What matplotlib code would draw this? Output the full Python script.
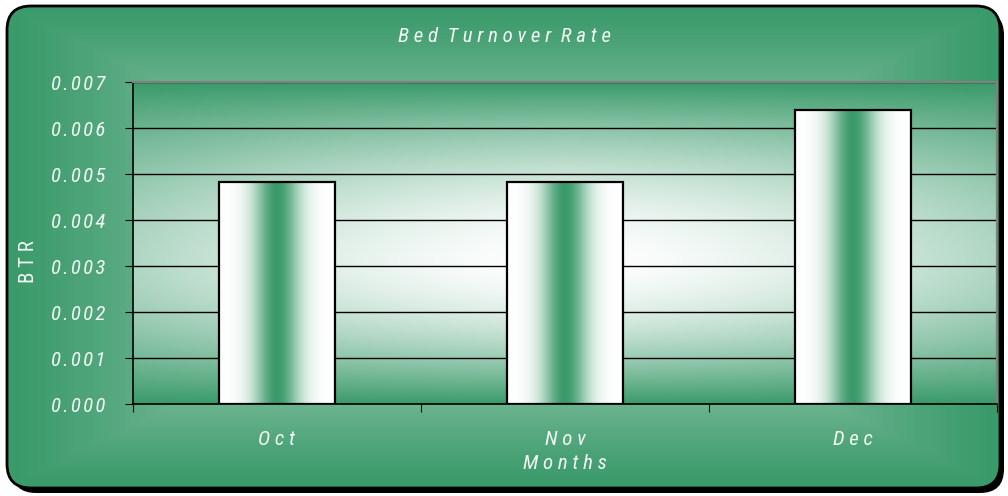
import numpy as np
import matplotlib
matplotlib.use('Agg')
import matplotlib.pyplot as plt
from matplotlib.patches import FancyBboxPatch
from matplotlib.colors import to_rgb
from matplotlib import font_manager

months = ['Oct', 'Nov', 'Dec']
btr = [0.00483, 0.00483, 0.00639]
yticks = [0.000, 0.001, 0.002, 0.003, 0.004, 0.005, 0.006, 0.007]

GREEN = np.array(to_rgb('#3a9a6a'))
WHITE = np.array([1.0, 1.0, 1.0])
TXT = '#f3f8f4'
FS = 15

# pick a narrow face if one is around
names = set(f.name for f in font_manager.fontManager.ttflist)
narrow = [n for n in ['Liberation Sans Narrow', 'Roboto Condensed', 'Open Sans Condensed',
                      'DejaVu Sans Condensed'] if n in names]
FONT = narrow + ['DejaVu Sans']
STRETCH = 'condensed'

def spaced(s, gap='\u200a'):
    # fake letter spacing like the original
    return '  '.join(gap.join(w) for w in s.split(' '))

def blend(w):
    w = np.clip(w, 0, 1)[..., None]
    return GREEN * (1 - w) + WHITE * w

fig = plt.figure(figsize=(10.08, 4.96), dpi=100)

# outer rounded frame with shadow and gradient
bg = fig.add_axes([0, 0, 1, 1])
bg.set_xlim(0, 1008)
bg.set_ylim(496, 0)
bg.axis('off')
shadow = FancyBboxPatch((12, 11), 992, 482, boxstyle='round,pad=0,rounding_size=24',
                        fc='black', ec='none', zorder=1)
bg.add_patch(shadow)
frame = FancyBboxPatch((7, 6), 993, 482, boxstyle='round,pad=0,rounding_size=24',
                       fc='none', ec='black', lw=2, zorder=3)
bg.add_patch(frame)
gx, gy = np.meshgrid(np.linspace(-1, 1, 400), np.linspace(-1, 1, 200))
d = np.maximum(np.abs(gx), np.abs(gy))
im = bg.imshow(blend(0.9 * (1 - d) ** 1.2), extent=(7, 1000, 488, 6), aspect='auto',
               zorder=2, interpolation='bilinear')
im.set_clip_path(frame)

# main plot
ax = fig.add_axes([133 / 1008, 92 / 496, 864 / 1008, 322 / 496])
ax.patch.set_visible(False)

# plot-area gradient (white centre, green top/bottom)
px, py = np.meshgrid(np.linspace(-1, 1, 300), np.linspace(0, 0.007, 300))
yc = 0.0031
v = np.where(py > yc, (py - yc) / (0.007 - yc), (yc - py) / yc)
wplot = (1 - v ** 1.8) * (1 - 0.4 * np.abs(px) ** 1.6)
ax.imshow(blend(wplot), extent=(-0.5, 2.5, 0, 0.007), origin='lower', aspect='auto',
          zorder=0, interpolation='bilinear')

ax.set_yticks(yticks)
ax.set_yticklabels([spaced('%.3f' % t) for t in yticks])
ax.yaxis.grid(True, color='black', lw=1)
ax.set_axisbelow(True)

bars = ax.bar(range(len(months)), btr, width=0.4, fc='none', ec='black', lw=1.6, zorder=3)
bu = np.linspace(-1, 1, 200)
bar_grad = blend(1 - np.exp(-(bu / 0.4) ** 2))[None, :, :]
for b in bars:
    ax.imshow(bar_grad, extent=(b.get_x(), b.get_x() + b.get_width(), 0, b.get_height()),
              aspect='auto', zorder=2, interpolation='bilinear')
ax.set_xlim(-0.5, 2.5)
ax.set_ylim(0, 0.007)

# tick marks between categories, labels at centres
ax.set_xticks([-0.5, 0.5, 1.5, 2.5])
ax.set_xticklabels([])
ax.set_xticks(range(len(months)), minor=True)
ax.set_xticklabels([spaced(m, ' ') for m in months], minor=True)
ax.tick_params(axis='x', which='major', direction='out', length=6, color='black')
ax.tick_params(axis='x', which='minor', length=0, pad=19)
ax.tick_params(axis='y', direction='out', length=6, color='black', pad=14)
for lab in ax.get_xticklabels(minor=True) + ax.get_yticklabels():
    lab.set_family(FONT)
    lab.set_stretch(STRETCH)
    lab.set_style('italic')
    lab.set_size(FS)
    lab.set_color(TXT)

for s in ['left', 'bottom']:
    ax.spines[s].set_color('black')
    ax.spines[s].set_linewidth(1.2)
for s in ['top', 'right']:
    ax.spines[s].set_color('#808080')
    ax.spines[s].set_linewidth(1.6)

ax.set_xlabel(spaced('Months', ' '), family=FONT, stretch=STRETCH, style='italic', size=FS,
              color=TXT, labelpad=3)
fig.text(505 / 1008, 1 - 37 / 496, spaced('Bed Turnover Rate', ' '), family=FONT,
         stretch=STRETCH, style='italic', size=FS, color=TXT, ha='center', va='center')
fig.text(29 / 1008, 1 - 262 / 496, spaced('BTR', ' '), family=FONT, stretch=STRETCH, size=FS,
         color=TXT, rotation=90, ha='center', va='center')

fig.savefig('out.png', dpi=100)
